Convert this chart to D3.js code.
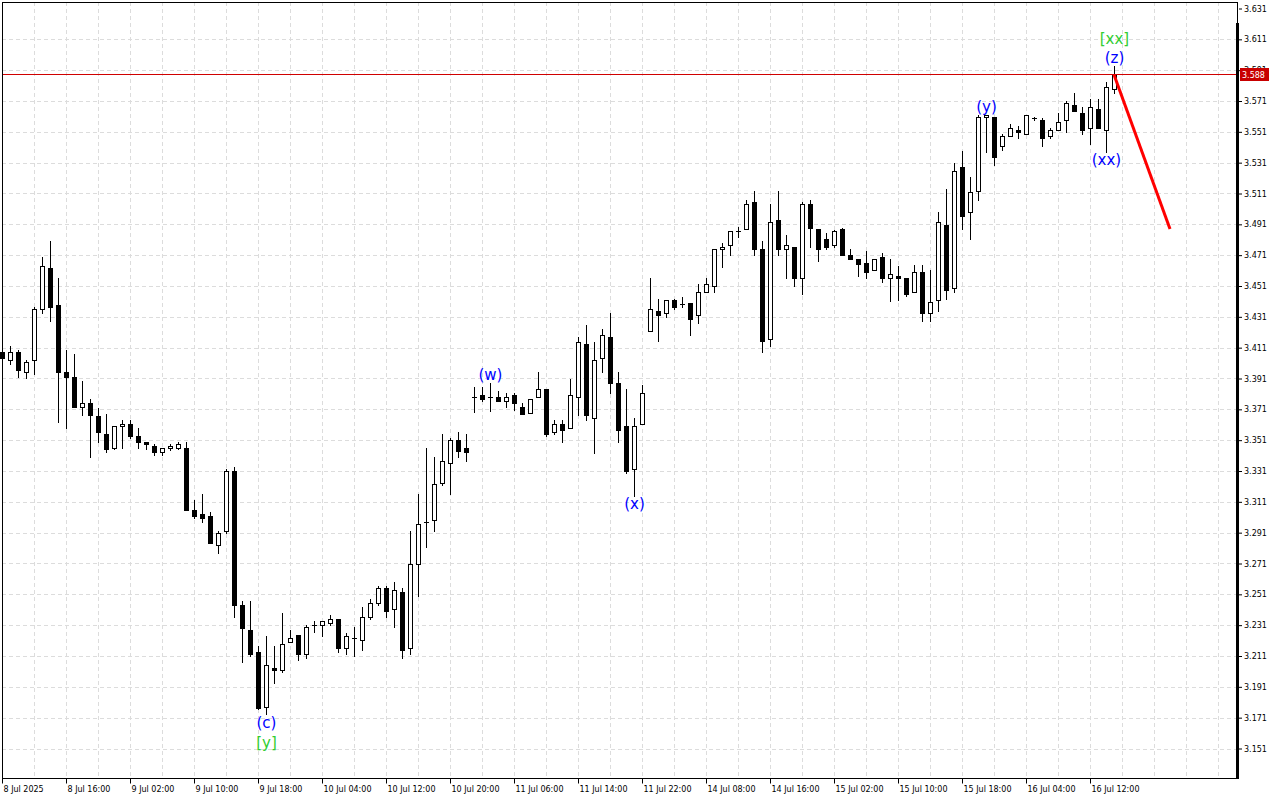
<!DOCTYPE html>
<html>
<head>
<meta charset="utf-8">
<script src="https://cdn.jsdelivr.net/npm/d3@7"></script>
<style>
html, body { margin: 0; padding: 0; background: #fff; }
svg { display: block; }
</style>
</head>
<body>
<svg id="chart" width="1280" height="800"></svg>
<script>
// H1 candles, 8 Jul - 16 Jul 2025
var opens = [3.4082,3.4027,3.4085,3.3955,3.4033,3.4358,3.4624,3.4384,3.3955,3.3917,
  3.3728,3.3754,3.3664,3.3553,3.3456,3.3599,3.3618,3.3534,3.3495,3.3475,
  3.3430,3.3456,3.3462,3.3462,3.3054,3.3034,3.3015,3.2833,3.2918,3.3307,
  3.2438,3.2276,3.2133,3.1776,3.2035,3.2016,3.2198,3.2243,3.2120,3.2308,
  3.2308,3.2327,3.2353,3.2159,3.2224,3.2211,3.2360,3.2451,3.2554,3.2412,
  3.2528,3.2159,3.2704,3.2976,3.2995,3.3235,3.3365,3.3514,3.3456,3.3787,
  3.3806,3.3787,3.3787,3.3767,3.3806,3.3728,3.3683,3.3787,3.3839,3.3566,
  3.3618,3.3586,3.3793,3.4137,3.3657,3.4046,3.4182,3.3878,3.3599,3.3326,
  3.3618,3.4215,3.4345,3.4338,3.4416,3.4390,3.4397,3.4319,3.4474,3.4507,
  3.4753,3.4773,3.4864,3.4877,3.5058,3.4747,3.4163,3.4935,3.4753,3.4766,
  3.4559,3.5045,3.4877,3.4818,3.4779,3.4877,3.4708,3.4688,3.4656,3.4617,
  3.4695,3.4559,3.4578,3.4565,3.4468,3.4604,3.4338,3.4416,3.4903,3.4494,
  3.5279,3.4987,3.5123,3.5603,3.5603,3.5415,3.5486,3.5525,3.5493,3.5597,
  3.5584,3.5480,3.5525,3.5584,3.5687,3.5635,3.5532,3.5655,3.5525,3.5785];
var highs = [3.4105,3.4124,3.4092,3.4033,3.4377,3.4695,3.4799,3.4565,3.4098,3.4066,
  3.3897,3.3774,3.3716,3.3677,3.3605,3.3644,3.3644,3.3586,3.3495,3.3488,
  3.3462,3.3488,3.3495,3.3501,3.3119,3.3158,3.3047,3.2918,3.3326,3.3333,
  3.2464,3.2464,3.2172,3.2237,3.2178,3.2386,3.2276,3.2243,3.2308,3.2334,
  3.2334,3.2373,3.2353,3.2256,3.2295,3.2425,3.2477,3.2567,3.2567,3.2593,
  3.2554,3.2924,3.3164,3.3456,3.3398,3.3553,3.3527,3.3566,3.3553,3.3858,
  3.3858,3.3884,3.3826,3.3813,3.3813,3.3754,3.3774,3.3955,3.3839,3.3638,
  3.3644,3.3904,3.4176,3.4254,3.4144,3.4228,3.4338,3.3955,3.3839,3.3657,
  3.3865,3.4565,3.4423,3.4416,3.4423,3.4436,3.4397,3.4526,3.4559,3.4753,
  3.4786,3.4864,3.4890,3.5065,3.5123,3.4799,3.5039,3.5123,3.4838,3.4766,
  3.5058,3.5065,3.4877,3.4857,3.4870,3.4883,3.4747,3.4688,3.4734,3.4688,
  3.4727,3.4688,3.4637,3.4565,3.4643,3.4643,3.4617,3.4993,3.5142,3.5305,
  3.5383,3.5220,3.5616,3.5616,3.5603,3.5499,3.5558,3.5551,3.5622,3.5609,
  3.5597,3.5532,3.5635,3.5707,3.5765,3.5674,3.5726,3.5720,3.5830,3.5934];
var lows = [3.4020,3.4001,3.3917,3.3910,3.3936,3.4338,3.4280,3.3631,3.3592,3.3722,
  3.3670,3.3398,3.3495,3.3430,3.3450,3.3456,3.3521,3.3456,3.3450,3.3417,
  3.3417,3.3443,3.3450,3.3060,3.3008,3.2976,3.2840,3.2781,3.2905,3.2366,
  3.2068,3.2107,3.1763,3.1731,3.1932,3.2003,3.2198,3.2087,3.2100,3.2263,
  3.2237,3.2314,3.2139,3.2120,3.2107,3.2152,3.2353,3.2438,3.2366,3.2301,
  3.2094,3.2126,3.2496,3.2820,3.2918,3.3216,3.3158,3.3398,3.3372,3.3690,
  3.3761,3.3696,3.3767,3.3728,3.3703,3.3677,3.3683,3.3787,3.3534,3.3553,
  3.3501,3.3586,3.3670,3.3638,3.3424,3.3955,3.3813,3.3501,3.3300,3.3151,
  3.3618,3.4215,3.4150,3.4312,3.4358,3.4371,3.4189,3.4273,3.4468,3.4468,
  3.4630,3.4708,3.4831,3.4877,3.4708,3.4079,3.4118,3.4714,3.4559,3.4513,
  3.4455,3.4766,3.4675,3.4747,3.4766,3.4708,3.4682,3.4572,3.4559,3.4617,
  3.4533,3.4410,3.4416,3.4448,3.4468,3.4280,3.4286,3.4351,3.4423,3.4474,
  3.4877,3.4812,3.5071,3.5376,3.5298,3.5389,3.5480,3.5473,3.5493,3.5584,
  3.5421,3.5467,3.5525,3.5506,3.5648,3.5499,3.5434,3.5532,3.5382,3.5765];
var closes = [3.4046,3.4085,3.3962,3.4020,3.4358,3.4637,3.4371,3.3949,3.3917,3.3722,
  3.3754,3.3670,3.3566,3.3450,3.3599,3.3618,3.3540,3.3501,3.3485,3.3430,
  3.3462,3.3475,3.3482,3.3060,3.3021,3.3008,3.2840,3.2905,3.3313,3.2438,
  3.2289,3.2126,3.1770,3.2049,3.2016,3.2185,3.2224,3.2120,3.2295,3.2308,
  3.2334,3.2347,3.2159,3.2237,3.2224,3.2366,3.2457,3.2554,3.2399,3.2535,
  3.2152,3.2704,3.2963,3.2976,3.3223,3.3378,3.3508,3.3437,3.3430,3.3787,
  3.3780,3.3787,3.3767,3.3793,3.3748,3.3677,3.3774,3.3839,3.3547,3.3618,
  3.3579,3.3806,3.4144,3.3670,3.4033,3.4195,3.3878,3.3579,3.3307,3.3605,
  3.3813,3.4358,3.4325,3.4416,3.4377,3.4390,3.4299,3.4474,3.4526,3.4753,
  3.4766,3.4864,3.4864,3.5045,3.4753,3.4150,3.4928,3.4753,3.4773,3.4559,
  3.5039,3.4883,3.4747,3.4766,3.4864,3.4708,3.4688,3.4650,3.4598,3.4688,
  3.4559,3.4585,3.4559,3.4461,3.4604,3.4338,3.4403,3.4928,3.4487,3.5253,
  3.4967,3.5117,3.5603,3.5616,3.5344,3.5486,3.5538,3.5506,3.5616,3.5597,
  3.5473,3.5519,3.5577,3.5694,3.5648,3.5525,3.5668,3.5532,3.5798,3.5880];

var timeLabels = ["8 Jul 2025","8 Jul 16:00","9 Jul 02:00","9 Jul 10:00","9 Jul 18:00",
  "10 Jul 04:00","10 Jul 12:00","10 Jul 20:00","11 Jul 06:00","11 Jul 14:00",
  "11 Jul 22:00","14 Jul 08:00","14 Jul 16:00","15 Jul 02:00","15 Jul 10:00",
  "15 Jul 18:00","16 Jul 04:00","16 Jul 12:00"];
var priceTicks = [3.151,3.171,3.191,3.211,3.231,3.251,3.271,3.291,3.311,3.331,3.351,3.371,
  3.391,3.411,3.431,3.451,3.471,3.491,3.511,3.531,3.551,3.571,3.591,3.611,3.631];

var lastPrice = 3.588;
// forecast arrow
var projIndex = [139, 146];
var projPrice = [3.588, 3.488];

// wave marks
var waveText  = ["(c)", "[y]", "(w)", "(x)", "(y)", "(xx)", "(z)", "[xx]"];
var waveIndex = [33, 33, 61, 79, 123, 138, 139, 139];
var wavePlace = ["below", "below", "above", "below", "above", "below", "above", "above"];
var waveDegree = [0, 1, 0, 0, 0, 0, 0, 1];

var svg = d3.select("#chart");
var plotL = 2, plotR = 1237, plotT = 2, plotB = 778;
var degreeColor = ["#0000ff", "#32cd32"];

var x = d3.scaleLinear().domain([0, 154]).range([2, 1234]);
var y = d3.scaleLinear().domain([3.151, 3.631]).range([748.5, 8.5]);

var candles = opens.map(function(o, i) {
  return {i: i, o: o, h: highs[i], l: lows[i], c: closes[i]};
});

// grid
var grid = svg.append("g").attr("class", "grid")
  .attr("stroke", "#dcdcdc").attr("stroke-dasharray", "4,3");
grid.selectAll("line.v")
  .data(d3.range(0, 155, 4))
  .enter().append("line")
    .attr("class", "v")
    .attr("x1", d => Math.round(x(d)) + 0.5).attr("x2", d => Math.round(x(d)) + 0.5)
    .attr("y1", plotT).attr("y2", plotB);
grid.selectAll("line.h")
  .data(priceTicks.slice(0, -1))
  .enter().append("line")
    .attr("class", "h")
    .attr("x1", plotL).attr("x2", plotR)
    .attr("y1", d => Math.round(y(d)) + 0.5).attr("y2", d => Math.round(y(d)) + 0.5);

// candles
var cg = svg.append("g").attr("class", "candles");
var cnd = cg.selectAll("g").data(candles).enter().append("g");

cnd.append("line")
  .attr("x1", d => Math.round(x(d.i)) + 0.5).attr("x2", d => Math.round(x(d.i)) + 0.5)
  .attr("y1", d => Math.round(y(d.h))).attr("y2", d => Math.round(y(d.l)) + 1)
  .attr("stroke", "#000").attr("stroke-width", 1);

cnd.each(function(d) {
  var g = d3.select(this);
  var cx = Math.round(x(d.i));
  var yo = Math.round(y(d.o)), yc = Math.round(y(d.c));
  var bt = Math.min(yo, yc), h = Math.abs(yo - yc);
  if (h < 1) {
    g.append("line")
      .attr("x1", cx - 2).attr("x2", cx + 3)
      .attr("y1", bt + 0.5).attr("y2", bt + 0.5)
      .attr("stroke", "#000");
  } else {
    g.append("rect")
      .attr("x", cx - 1.5).attr("y", bt + 0.5)
      .attr("width", 4).attr("height", h)
      .attr("fill", d.c >= d.o ? "#fff" : "#000")
      .attr("stroke", "#000").attr("stroke-width", 1);
  }
});

// last price line
var ly = Math.round(y(lastPrice)) - 1;
svg.append("line")
  .attr("x1", plotL).attr("x2", plotR)
  .attr("y1", ly + 0.5).attr("y2", ly + 0.5)
  .attr("stroke", "#d00000").attr("stroke-width", 1)
  .attr("shape-rendering", "crispEdges");

// forecast line
svg.append("line")
  .attr("x1", x(projIndex[0])).attr("y1", y(projPrice[0]))
  .attr("x2", x(projIndex[1])).attr("y2", y(projPrice[1]))
  .attr("stroke", "#ff0000").attr("stroke-width", 3);

// wave labels
svg.append("g").selectAll("text")
  .data(waveText)
  .enter().append("text")
    .attr("x", (d, k) => x(waveIndex[k]) + 0.5)
    .attr("y", function(d, k) {
      var c = candles[waveIndex[k]];
      if (wavePlace[k] == "above") return y(c.h) - 3 - waveDegree[k] * 19;
      return y(c.l) + 13.5 + waveDegree[k] * 20;
    })
    .attr("text-anchor", "middle")
    .attr("font-family", "DejaVu Sans")
    .attr("font-size", 15)
    .attr("fill", (d, k) => degreeColor[waveDegree[k]])
    .text(d => d);

// frame
svg.append("rect")
  .attr("x", plotL + 0.5).attr("y", plotT + 0.5)
  .attr("width", plotR - plotL).attr("height", plotB - plotT)
  .attr("fill", "none").attr("stroke", "#000");
svg.append("line")
  .attr("x1", plotR + 0.5).attr("x2", plotR + 0.5)
  .attr("y1", 23).attr("y2", plotB + 1)
  .attr("stroke", "#000").attr("stroke-width", 3);

// axes
var yAxis = d3.axisRight(y)
  .tickValues(priceTicks)
  .tickFormat(d3.format(".3f"))
  .tickSize(3).tickPadding(2);
var ya = svg.append("g").attr("transform", "translate(" + (plotR + 2) + ",0)").call(yAxis);
ya.select(".domain").remove();
ya.attr("font-family", "DejaVu Sans").attr("font-size", 8);

var xAxis = d3.axisBottom(x)
  .tickValues(timeLabels.map((d, k) => k * 8))
  .tickFormat((d, k) => timeLabels[k])
  .tickSize(5).tickPadding(3);
var xa = svg.append("g").attr("transform", "translate(0," + (plotB + 0.5) + ")").call(xAxis);
xa.select(".domain").remove();
xa.attr("font-family", "DejaVu Sans").attr("font-size", 8);
xa.selectAll("text").attr("text-anchor", "start").attr("x", 1);

// last price tag
svg.append("rect")
  .attr("x", plotR + 3).attr("y", ly - 6)
  .attr("width", 29).attr("height", 13)
  .attr("fill", "#c80000");
svg.append("text")
  .attr("x", plotR + 5).attr("y", ly + 1)
  .attr("dy", "0.32em")
  .attr("font-family", "DejaVu Sans").attr("font-size", 8)
  .attr("fill", "#fff")
  .text(d3.format(".3f")(lastPrice));
</script>
</body>
</html>
